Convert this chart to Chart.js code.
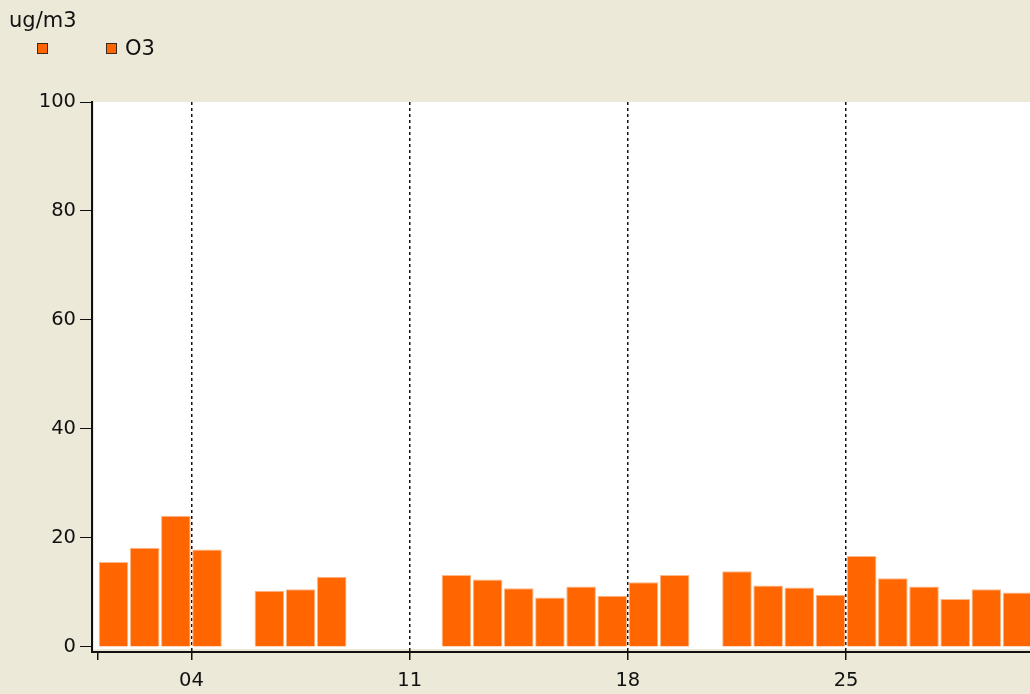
<!DOCTYPE html>
<html>
<head>
<meta charset="utf-8">
<script src="https://cdn.jsdelivr.net/npm/chart.js@4.4.1/dist/chart.umd.min.js"></script>
<style>
  html, body { margin:0; padding:0; background:#ECE9D8; overflow:hidden; }
  #wrap { position:relative; width:1030px; height:694px; }
  #c { position:absolute; left:0; top:0; }
  .unit { position:absolute; left:9px; top:8px; font:21px "DejaVu Sans", Verdana, sans-serif; color:#111; }
  .lg { position:absolute; top:43px; width:9px; height:9px; background:#FF6600; border:1px solid #3a2a20; }
  .lgtx { position:absolute; left:125px; top:36px; font:21px "DejaVu Sans", Verdana, sans-serif; color:#111; }
</style>
</head>
<body>
<div id="wrap">
  <canvas id="c" width="1030" height="694"></canvas>
  <div class="unit">ug/m3</div>
  <div class="lg" style="left:37px"></div>
  <div class="lg" style="left:106px"></div>
  <div class="lgtx">O3</div>
</div>
<script>
// jours du mois avec mesure (les trous = pas de donnée)
const days = [1, 2, 3, 4, 6, 7, 8, 12, 13, 14, 15, 16, 17, 18, 19, 21, 22, 23, 24, 25, 26, 27, 28, 29, 30];
const o3   = [15.6, 18.2, 24.1, 17.9, 10.3, 10.6, 12.9, 13.2, 12.4, 10.8, 9.1, 11.1, 9.4, 11.9, 13.2, 13.9, 11.3, 10.9, 9.6, 16.7, 12.6, 11.1, 8.8, 10.6, 10.0];
const xTicks = [1, 4, 11, 18, 25];     // 1 = repère sans libellé
const yTicks = [0, 20, 40, 60, 80, 100];
const X_MIN = 0.81, X_MAX = 30.9;

const FONT = { family: '"DejaVu Sans", Verdana, sans-serif', size: 19.5 };

// fond blanc de la zone de tracé, avant axes et barres
const plotBg = {
  id: 'plotBg',
  beforeDraw(chart) {
    const ctx = chart.ctx, a = chart.chartArea;
    const y0 = chart.scales.y.getPixelForValue(0);
    ctx.save();
    ctx.fillStyle = '#ffffff';
    ctx.fillRect(a.left + 2, a.top, a.right - a.left - 2, y0 + 2 - a.top);
    ctx.restore();
  }
};

new Chart(document.getElementById('c').getContext('2d'), {
  type: 'bar',
  data: {
    datasets: [{
      label: 'O3',
      data: days.map(function(d, i) { return { x: d + 0.5, y: o3[i] }; }),
      backgroundColor: '#FF6600',
      borderColor: '#F9B98A',
      borderWidth: 1,
      barPercentage: 0.95,
      categoryPercentage: 1
    }]
  },
  options: {
    responsive: false,
    animation: false,
    layout: { padding: { top: 102, left: 0, right: 0, bottom: 0 } },
    plugins: { legend: { display: false }, tooltip: { enabled: false } },
    scales: {
      x: {
        type: 'linear', min: X_MIN, max: X_MAX, offset: false, z: 1,
        afterBuildTicks: function(s) { s.ticks = xTicks.map(function(v) { return { value: v }; }); },
        afterFit: function(s) { s.height = 42; },
        border: { display: true, color: '#111', width: 2, dash: [3, 3] },
        grid: {
          offset: false,
          color: function(ctx) { return ctx.tick && ctx.tick.value === 1 ? 'rgba(0,0,0,0)' : '#111'; },
          lineWidth: 1.5,
          tickColor: '#111', tickLength: 8, tickBorderDash: [1, 0], tickWidth: 1.5
        },
        ticks: {
          color: '#111', font: FONT, padding: 9, maxRotation: 0, autoSkip: false,
          callback: function(v) { return v === 1 ? '' : String(v).padStart(2, '0'); }
        }
      },
      y: {
        min: -0.92, max: 100,
        afterBuildTicks: function(s) { s.ticks = yTicks.map(function(v) { return { value: v }; }); },
        afterFit: function(s) { s.width = 92; },
        border: { display: true, color: '#111', width: 2 },
        grid: { drawOnChartArea: false, tickLength: 12, tickColor: '#111', tickWidth: 1 },
        ticks: { color: '#111', font: FONT, padding: 4 }
      }
    }
  },
  plugins: [plotBg]
});
</script>
</body>
</html>
